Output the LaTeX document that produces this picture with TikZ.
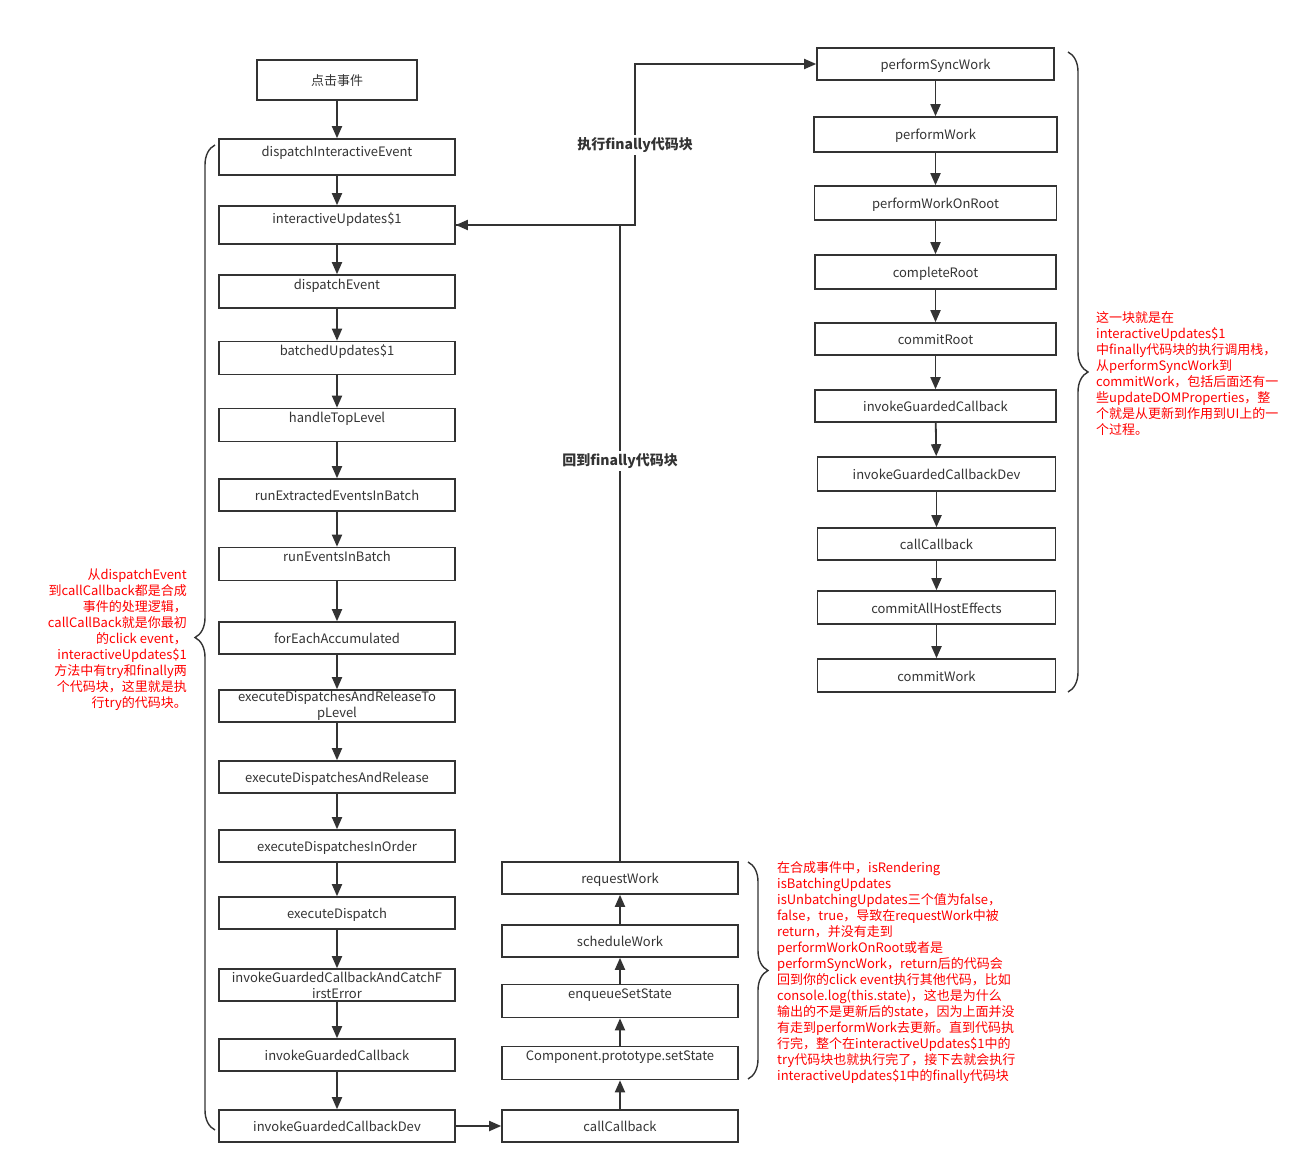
\documentclass[tikz,border=0pt]{standalone}
\usepackage{fontspec}
\setmainfont{Noto Sans CJK SC}
\usetikzlibrary{arrows.meta,calc,decorations.pathreplacing}
\definecolor{ln}{HTML}{333333}
\tikzstyle{fb} = [rectangle,draw=ln,line width=1.6pt,minimum width=236pt,minimum height=32pt,inner sep=0pt,text height=14pt,text depth=3pt,font=\fontsize{13}{15}\selectfont,text=ln]
\tikzstyle{tup} = [text depth=#1]
\tikzstyle{ar} = [draw=ln,line width=1.8pt,-{Triangle[length=12pt,width=10pt]}]
\tikzstyle{nt} = [text=red,font=\fontsize{13}{16}\selectfont,inner sep=0pt]
\tikzstyle{br} = [draw=ln,line width=1.4pt,decorate,decoration={brace,amplitude=20pt}]
\tikzstyle{lb} = [font=\bfseries\fontsize{14}{16}\selectfont,text=ln,fill=white,inner sep=2pt]
\begin{document}
\begin{tikzpicture}[x=1pt,y=-1pt]
  \useasboundingbox (0,0) rectangle (1314,1174);
  % left column
  \node[fb,minimum width=160pt,minimum height=40pt](ck) at (337,80) {点击事件};
  \node[fb,minimum height=36pt,tup=15pt](di) at (337,157) {dispatchInteractiveEvent};
  \node[fb,minimum height=38pt,tup=17pt](iu) at (337,225) {interactiveUpdates\$1};
  \node[fb,minimum height=33pt,tup=18pt](de) at (337,291.5) {dispatchEvent};
  \node[fb,tup=19pt](bu) at (337,358) {batchedUpdates\$1};
  \node[fb,tup=19pt](ht) at (337,425) {handleTopLevel};
  \node[fb](re) at (337,495) {runExtractedEventsInBatch};
  \node[fb,tup=19pt](rb) at (337,564) {runEventsInBatch};
  \node[fb](fa) at (337,638) {forEachAccumulated};
  \node[fb,align=center,text height=,text depth=,font=\fontsize{13}{16}\selectfont](et) at (337,706) {executeDispatchesAndReleaseTo\\pLevel};
  \node[fb](er) at (337,777) {executeDispatchesAndRelease};
  \node[fb](eo) at (337,846) {executeDispatchesInOrder};
  \node[fb](ed) at (337,913) {executeDispatch};
  \node[fb,align=center,text height=,text depth=,font=\fontsize{13}{16}\selectfont](ic) at (337,985) {invokeGuardedCallbackAndCatchF\\irstError};
  \node[fb](ig) at (337,1055) {invokeGuardedCallback};
  \node[fb](id) at (337,1126) {invokeGuardedCallbackDev};
  % middle column
  \node[fb](rw) at (620,878) {requestWork};
  \node[fb](sw) at (620,941) {scheduleWork};
  \node[fb,tup=19pt](es) at (620,1001) {enqueueSetState};
  \node[fb,tup=19pt](cs) at (620,1063) {Component.prototype.setState};
  \node[fb](cc) at (620,1126) {callCallback};
  % right column
  \node[fb,minimum width=237pt](ps) at (935.5,64) {performSyncWork};
  \node[fb,minimum width=243pt,minimum height=35pt](pw) at (935.5,134.5) {performWork};
  \node[fb,minimum width=242pt,minimum height=34pt](pr) at (935.5,203) {performWorkOnRoot};
  \node[fb,minimum width=241pt,minimum height=34pt](cr) at (935.5,272) {completeRoot};
  \node[fb,minimum width=241pt](cm) at (935.5,339) {commitRoot};
  \node[fb,minimum width=241pt](ri) at (935.5,406) {invokeGuardedCallback};
  \node[fb,minimum width=238pt,minimum height=34pt](rd) at (936.5,474) {invokeGuardedCallbackDev};
  \node[fb,minimum width=238pt](rc) at (936.5,544) {callCallback};
  \node[fb,minimum width=238pt,minimum height=33pt](ce) at (936.5,607.5) {commitAllHostEffects};
  \node[fb,minimum width=238pt,minimum height=33pt](cw) at (936.5,675.5) {commitWork};
  % connectors
  \foreach \a/\b in {ck/di,di/iu,iu/de,de/bu,bu/ht,ht/re,re/rb,rb/fa,fa/et,et/er,er/eo,eo/ed,ed/ic,ic/ig,ig/id,
                     cc/cs,cs/es,es/sw,sw/rw,
                     ps/pw,pw/pr,pr/cr,cr/cm,cm/ri,ri/rd,rd/rc,rc/ce,ce/cw}
    \draw[ar] (\a) -- (\b);
  \draw[ar] (id.east) -- (cc.west);
  \coordinate (jn) at (635,225);
  \draw[ar] (iu.east) -- (jn) |- (ps.west);
  \draw[ar] (rw.north) |- (iu.east);
  \node[lb](fin) at (635,145) {执行finally代码块};
  \node[lb](bk) at (620,461) {回到finally代码块};
  % braces
  \draw[br] (215,1130) -- (215,145);
  \draw[br] (1068,52) -- (1068,692);
  \draw[br] (748,862) -- (748,1079);
  % notes
  \node[nt,align=right,anchor=north east](nl) at (187,569) {从dispatchEvent\\到callCallback都是合成\\事件的处理逻辑，\\callCallBack就是你最初\\的click event，\\interactiveUpdates\$1\\方法中有try和finally两\\个代码块，这里就是执\\行try的代码块。};
  \node[nt,align=left,anchor=north west](nr) at (1096,311) {这一块就是在\\interactiveUpdates\$1\\中finally代码块的执行调用栈，\\从performSyncWork到\\commitWork，包括后面还有一\\些updateDOMProperties，整\\个就是从更新到作用到UI上的一\\个过程。};
  \node[nt,align=left,anchor=north west](nb) at (777,861) {在合成事件中，isRendering\\isBatchingUpdates\\isUnbatchingUpdates三个值为false，\\false，true，导致在requestWork中被\\return，并没有走到\\performWorkOnRoot或者是\\performSyncWork，return后的代码会\\回到你的click event执行其他代码，比如\\console.log(this.state)，这也是为什么\\输出的不是更新后的state，因为上面并没\\有走到performWork去更新。直到代码执\\行完，整个在interactiveUpdates\$1中的\\try代码块也就执行完了，接下去就会执行\\interactiveUpdates\$1中的finally代码块};
\end{tikzpicture}
\end{document}
